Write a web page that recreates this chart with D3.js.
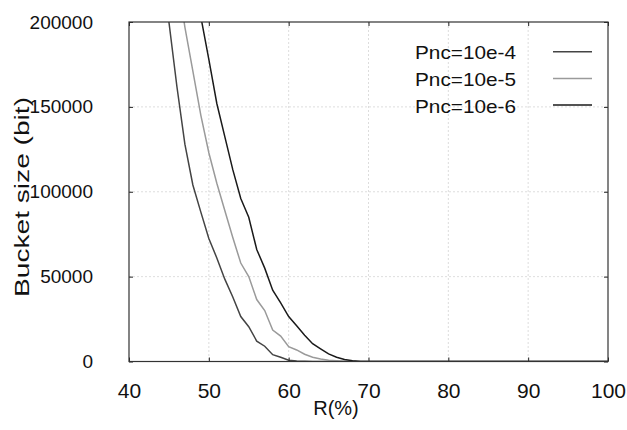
<!DOCTYPE html>
<meta charset="utf-8">
<script src="https://d3js.org/d3.v7.min.js"></script>
<body>
<style type="text/css">
    html, body { margin: 0; background: white; }
    text { font-family: "Liberation Sans", Arial, sans-serif; fill: #111; }
</style>
<svg width="627" height="430"></svg>
<script>

    // values
    var xTicks = [40, 50, 60, 70, 80, 90, 100];
    var yTicks = [0, 50000, 100000, 150000, 200000];
    var labels = ['Pnc=10e-4', 'Pnc=10e-5', 'Pnc=10e-6'];
    var colors = ['#444444', '#9a9a9a', '#1a1a1a'];

    var rA = [44, 45, 46, 47, 48, 49, 50, 51, 52, 53, 54, 55, 56, 57, 58, 59, 60, 61, 62, 63, 100];
    var pnc4 = [245000, 200000, 162000, 128000, 104000, 88000, 72500, 61000, 48500, 38000, 26500, 20500, 12000, 9000, 4000, 2500, 700, 300, 100, 0, 0];

    var rB = [46, 47, 48, 49, 50, 51, 52, 53, 54, 55, 56, 57, 58, 59, 60, 61, 62, 63, 64, 65, 66, 67, 68, 100];
    var pnc5 = [228000, 197000, 171000, 145000, 123000, 105000, 89000, 73000, 58000, 50000, 36500, 30000, 18500, 15000, 8700, 6800, 4300, 2500, 1500, 800, 400, 100, 0, 0];

    var rC = [48, 49, 50, 51, 52, 53, 54, 55, 56, 57, 58, 59, 60, 61, 62, 63, 64, 65, 66, 67, 68, 69, 100];
    var pnc6 = [235000, 203000, 178000, 152000, 132500, 113000, 96000, 85000, 66000, 55000, 42000, 34500, 26500, 21000, 15500, 10500, 7500, 4500, 2500, 1200, 500, 0, 0];

    var series = [
        { r: rA, v: pnc4 },
        { r: rB, v: pnc5 },
        { r: rC, v: pnc6 }
    ];

    var pLeft = 129, pRight = 608, pTop = 22, pBottom = 361.5;
    var w = pRight - pLeft, h = pBottom - pTop;

    var svg = d3.select('svg');

    var x = d3.scaleLinear().domain([40, 100]).range([pLeft, pRight]);
    var y = d3.scaleLinear().domain([0, 200000]).range([pBottom, pTop]);

    svg.append('clipPath').attr('id', 'plot')
        .append('rect').attr('x', pLeft).attr('y', pTop).attr('width', w).attr('height', h);

    // grid
    var grid = svg.append('g').attr('stroke', '#cfcfcf').attr('stroke-width', 0.7).attr('stroke-dasharray', '2,2');
    grid.selectAll('.vx').data(xTicks.slice(1, -1)).enter().append('line')
        .attr('x1', function (d) { return x(d); }).attr('x2', function (d) { return x(d); })
        .attr('y1', pTop).attr('y2', pBottom);
    grid.selectAll('.hy').data(yTicks.slice(1, -1)).enter().append('line')
        .attr('y1', function (d) { return y(d); }).attr('y2', function (d) { return y(d); })
        .attr('x1', pLeft).attr('x2', pRight);

    // curves
    var line = d3.line()
        .x(function (d) { return x(d[0]); })
        .y(function (d) { return y(d[1]); });

    svg.append('g').attr('clip-path', 'url(#plot)')
        .selectAll('path').data(series).enter().append('path')
        .attr('fill', 'none')
        .attr('stroke', function (d, i) { return colors[i]; })
        .attr('stroke-width', 1.5)
        .attr('d', function (d) { return line(d3.zip(d.r, d.v)); });

    // axes, ticks pointing inward
    var xAxis = svg.append('g').attr('transform', 'translate(0,' + pBottom + ')')
        .call(d3.axisBottom(x).tickValues(xTicks).tickSizeInner(-4).tickSizeOuter(0).tickPadding(22));
    var yAxis = svg.append('g').attr('transform', 'translate(' + pLeft + ',0)')
        .call(d3.axisLeft(y).tickValues(yTicks).tickSizeInner(-4).tickSizeOuter(0).tickPadding(36).tickFormat(d3.format('d')));
    svg.append('g').attr('transform', 'translate(0,' + pTop + ')')
        .call(d3.axisTop(x).tickValues(xTicks).tickSizeInner(-4).tickSizeOuter(0).tickFormat(''));
    svg.append('g').attr('transform', 'translate(' + pRight + ',0)')
        .call(d3.axisRight(y).tickValues(yTicks).tickSizeInner(-4).tickSizeOuter(0).tickFormat(''));

    svg.selectAll('.domain').remove();
    svg.selectAll('.tick line').attr('stroke', '#222');
    xAxis.selectAll('text').attr('font-size', 21).attr('fill', '#111');
    yAxis.selectAll('text').attr('font-size', 19).attr('fill', '#111');

    // frame
    svg.append('rect').attr('x', pLeft).attr('y', pTop).attr('width', w).attr('height', h)
        .attr('fill', 'none').attr('stroke', '#333').attr('stroke-width', 1.2);

    // axis titles
    svg.append('text').attr('x', 336).attr('y', 415).attr('text-anchor', 'middle')
        .attr('font-size', 20).text('R(%)');
    svg.append('text').attr('transform', 'translate(29,197) rotate(-90)')
        .attr('text-anchor', 'middle').attr('font-size', 20)
        .attr('textLength', 200).attr('lengthAdjust', 'spacingAndGlyphs')
        .text('Bucket size (bit)');

    // legend
    var legend = svg.append('g').selectAll('g').data(labels).enter().append('g')
        .attr('transform', function (d, i) { return 'translate(0,' + (51.7 + i * 26.7) + ')'; });
    legend.append('text').attr('x', 516).attr('y', 7.5).attr('text-anchor', 'end')
        .attr('font-size', 19).attr('textLength', 101).attr('lengthAdjust', 'spacingAndGlyphs')
        .text(function (d) { return d; });
    legend.append('line').attr('x1', 553).attr('x2', 592).attr('y1', 0).attr('y2', 0)
        .attr('stroke', function (d, i) { return colors[i]; }).attr('stroke-width', 1.5);

</script>
</body>
